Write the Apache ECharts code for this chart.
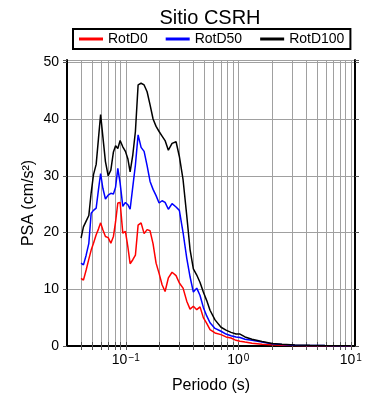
<!DOCTYPE html>
<html>
<head>
<meta charset="utf-8">
<script src="https://cdn.jsdelivr.net/npm/echarts@6/dist/echarts.min.js"></script>
<style>
  html, body { margin: 0; padding: 0; background: #fff; }
  #chart { width: 390px; height: 400px; }
</style>
</head>
<body>
<div id="chart"></div>
<script>
// periodos (s)
const periods = [0.040, 0.042, 0.0444, 0.0469, 0.0492, 0.0516, 0.0545, 0.0571, 0.0597, 0.0625,
  0.0659, 0.0697, 0.0736, 0.0776, 0.0811, 0.0849, 0.089, 0.094, 0.0992, 0.1042,
  0.1092, 0.1154, 0.1217, 0.1286, 0.1367, 0.1454, 0.1546, 0.1643, 0.1747, 0.1858,
  0.1976, 0.2101, 0.2234, 0.2389, 0.2577, 0.2797, 0.2992, 0.3228, 0.348, 0.3724,
  0.3985, 0.4272, 0.457, 0.4888, 0.5239, 0.5605, 0.6209, 0.7022, 0.7775, 0.8612,
  0.9541, 1.035, 1.147, 1.323, 1.624, 1.992, 2.443, 3.189, 4.334, 5.888,
  8.003, 10.0];

// PSA (cm/s2)
const rotD0 = [11.9, 11.6, 13.4, 15.3, 16.9, 18.1, 19.6, 20.6, 21.7, 20.5,
  19.3, 19.1, 18.1, 19.3, 21.9, 25.2, 25.3, 19.9, 20.2, 17.5,
  14.5, 15.2, 16.0, 21.3, 21.7, 19.8, 20.5, 20.3, 18.0, 14.6,
  12.8, 10.8, 9.6, 12.0, 13.0, 12.4, 11.1, 10.2, 7.9, 6.5,
  7.0, 6.4, 6.9, 5.0, 4.0, 2.9, 2.3, 2.0, 1.6, 1.4,
  1.0, 0.85, 0.7, 0.5, 0.3, 0.2, 0.12, 0.08, 0.05, 0.04,
  0.03, 0.02];

const rotD50 = [14.6, 14.3, 16.0, 18.1, 23.4, 23.9, 24.3, 27.5, 30.4, 27.8,
  25.9, 26.6, 26.9, 26.8, 28.0, 31.3, 28.7, 24.6, 25.3, 24.9,
  24.1, 28.1, 31.9, 37.2, 35.0, 34.3, 31.8, 29.0, 27.6, 26.5,
  25.2, 25.6, 25.3, 24.1, 25.1, 24.5, 23.9, 20.0, 15.5, 12.2,
  9.5, 10.2, 8.9, 6.8, 5.3, 4.1, 3.1, 2.6, 2.1, 1.8,
  1.6, 1.5, 1.2, 1.0, 0.7, 0.4, 0.25, 0.15, 0.1, 0.07,
  0.05, 0.04];

const rotD100 = [19.0, 21.0, 22.0, 23.0, 27.0, 30.2, 32.0, 36.5, 40.8, 36.9,
  32.5, 30.0, 31.0, 34.2, 35.3, 34.8, 36.2, 35.1, 34.3, 33.0,
  30.7, 33.7, 37.8, 46.0, 46.3, 46.0, 44.8, 42.5, 40.0, 38.7,
  37.8, 37.0, 36.2, 34.5, 35.7, 36.0, 33.4, 29.3, 23.0, 17.0,
  13.6, 12.5, 11.2, 9.5, 8.0, 6.3, 4.6, 3.3, 2.8, 2.4,
  2.1, 2.1, 1.6, 1.2, 0.8, 0.45, 0.3, 0.18, 0.12, 0.08,
  0.06, 0.05];

// lineas de la grilla logaritmica y etiquetas
const gridPeriods = [0.04, 0.05, 0.06, 0.07, 0.08, 0.09, 0.1, 0.2, 0.3, 0.4, 0.5, 0.6, 0.7, 0.8, 0.9,
  1, 2, 3, 4, 5, 6, 7, 8, 9, 10];
const decades = [0.1, 1, 10];
const exponents = { '-1': '\u22121', '0': '0', '1': '1' };

const font = "'Liberation Sans', Arial, Helvetica, sans-serif";
const pairs = (vals) => periods.map((p, i) => [p, vals[i]]);

const chart = echarts.init(document.getElementById('chart'));

const xBase = {
  type: 'log',
  logBase: 10,
  min: 0.03,
  max: 10.9,
  axisLine: { show: true, lineStyle: { color: '#000', width: 2 } },
  axisTick: { show: true, inside: false, length: 4, customValues: gridPeriods, lineStyle: { color: '#555' } },
  minorTick: { show: false }
};

chart.setOption({
  animation: false,
  textStyle: { fontFamily: font },
  title: {
    text: 'Sitio CSRH',
    left: 205,
    top: 3,
    textAlign: 'center',
    textStyle: { fontFamily: font, fontSize: 20, fontWeight: 'normal', color: '#000' }
  },
  legend: {
    left: 73,
    top: 29,
    padding: [3, 6],
    itemGap: 18,
    itemWidth: 24,
    itemHeight: 3,
    borderColor: '#000',
    borderWidth: 2,
    borderRadius: 0,
    textStyle: { fontFamily: font, fontSize: 14, color: '#000' },
    data: [
      { name: 'RotD0', icon: 'rect' },
      { name: 'RotD50', icon: 'rect' },
      { name: 'RotD100', icon: 'rect' }
    ]
  },
  grid: { left: 67, right: 35, top: 60, bottom: 54, containLabel: false },
  xAxis: [
    Object.assign({}, xBase, {
      position: 'bottom',
      name: 'Periodo (s)',
      nameLocation: 'middle',
      nameGap: 32,
      nameTextStyle: { fontFamily: font, fontSize: 16, color: '#000' },
      axisLabel: {
        customValues: decades,
        margin: 7,
        fontFamily: font,
        fontSize: 14,
        color: '#000',
        formatter: (v) => '{b|10}{s|' + (exponents[String(Math.round(Math.log10(v)))] || '') + '}',
        rich: {
          b: { fontFamily: font, fontSize: 14, color: '#000' },
          s: { fontFamily: font, fontSize: 10, color: '#000', verticalAlign: 'top', padding: [0, 0, 0, 1] }
        }
      },
      splitLine: { show: true, lineStyle: { color: '#a0a0a0', width: 1 } }
    }),
    Object.assign({}, xBase, {
      position: 'top',
      axisLabel: { show: false },
      splitLine: { show: false }
    })
  ],
  yAxis: [
    {
      type: 'value',
      min: 0,
      max: 50.4,
      interval: 10,
      name: 'PSA (cm/s\u00B2)',
      nameLocation: 'middle',
      nameGap: 30,
      nameMoveOverlap: false,
      nameRotate: 90,
      nameTextStyle: { fontFamily: font, fontSize: 16, color: '#000' },
      axisLine: { show: true, lineStyle: { color: '#000', width: 2 } },
      axisTick: { show: true, inside: false, length: 4, lineStyle: { color: '#555' } },
      axisLabel: {
        margin: 8,
        fontFamily: font,
        fontSize: 14,
        color: '#000',
        formatter: (v) => (Math.abs(v % 10) < 1e-9 ? String(v) : '')
      },
      splitLine: { show: true, lineStyle: { color: '#a0a0a0', width: 1 } }
    },
    {
      type: 'value',
      min: 0,
      max: 50.4,
      interval: 10,
      position: 'right',
      axisLine: { show: true, lineStyle: { color: '#000', width: 2 } },
      axisTick: { show: true, inside: false, length: 4, lineStyle: { color: '#555' } },
      axisLabel: { show: false },
      splitLine: { show: false }
    }
  ],
  series: [
    {
      name: 'RotD0', type: 'line', xAxisIndex: 0, yAxisIndex: 0,
      data: pairs(rotD0), showSymbol: false, symbol: 'none',
      itemStyle: { color: '#ff0000' },
      lineStyle: { color: '#ff0000', width: 1.5 }
    },
    {
      name: 'RotD50', type: 'line', xAxisIndex: 0, yAxisIndex: 0,
      data: pairs(rotD50), showSymbol: false, symbol: 'none',
      itemStyle: { color: '#0000ff' },
      lineStyle: { color: '#0000ff', width: 1.5 }
    },
    {
      name: 'RotD100', type: 'line', xAxisIndex: 0, yAxisIndex: 0,
      data: pairs(rotD100), showSymbol: false, symbol: 'none',
      itemStyle: { color: '#000000' },
      lineStyle: { color: '#000000', width: 1.5 }
    }
  ]
});
</script>
</body>
</html>
